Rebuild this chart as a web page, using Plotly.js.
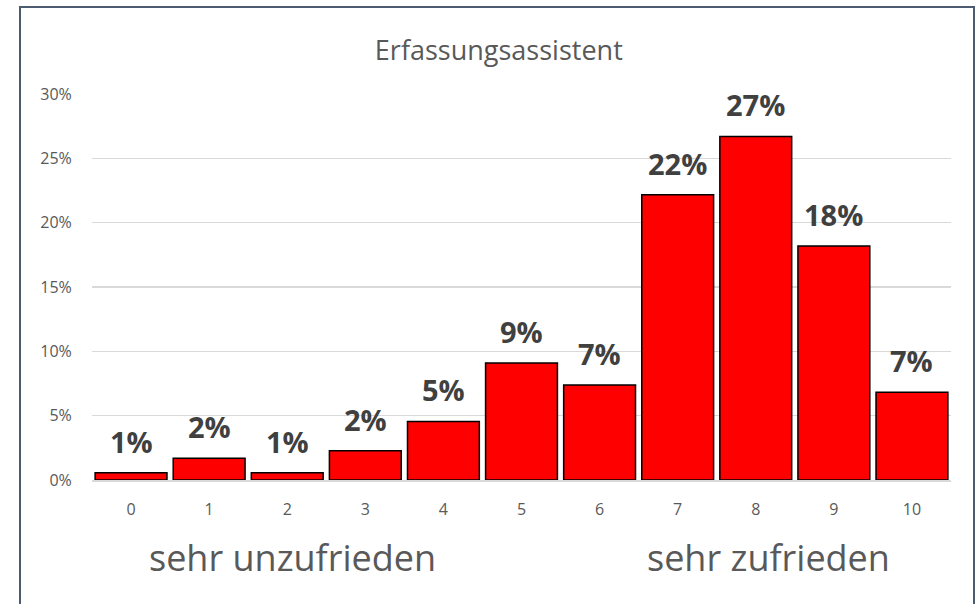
<!DOCTYPE html>
<html>
<head>
<meta charset="utf-8">
<script src="https://cdn.plot.ly/plotly-3.0.1.min.js"></script>
<style>
  html, body { margin: 0; padding: 0; background: #ffffff; }
  #wrap { position: relative; width: 980px; height: 604px; overflow: hidden; }
  #chart { position: absolute; left: 0; top: 0; width: 980px; height: 604px; }
  #frame { position: absolute; left: 19px; top: 6px; width: 956px; height: 640px;
           border: 2px solid #4d5b70; pointer-events: none; box-sizing: border-box; }
</style>
</head>
<body>
<div id="wrap">
  <div id="chart"></div>
  <div id="frame"></div>
</div>
<script>
// Data (share of respondents per rating, 0 = sehr unzufrieden, 10 = sehr zufrieden)
const categories = ['0', '1', '2', '3', '4', '5', '6', '7', '8', '9', '10'];
const shares = [0.0057, 0.0170, 0.0057, 0.0227, 0.0455, 0.0909, 0.0739, 0.2216, 0.2670, 0.1818, 0.0682];
const chartTitle = 'Erfassungsassistent';
const lowLabel = 'sehr unzufrieden';
const highLabel = 'sehr zufrieden';

const FONT = 'Open Sans, Liberation Sans, sans-serif';

const trace = {
  type: 'bar',
  x: categories,
  y: shares,
  marker: { color: '#ff0000', line: { color: '#000000', width: 1.5 } },
  hoverinfo: 'skip'
};

const labelAnnotations = categories.map((c, i) => ({
  x: c, y: shares[i], xref: 'x', yref: 'y',
  text: '<b>' + Math.round(shares[i] * 100) + '%</b>',
  showarrow: false, yanchor: 'bottom', yshift: 10,
  font: { family: FONT, size: 29, color: '#404040' }
}));

const layout = {
  width: 980, height: 604,
  margin: { l: 92, r: 29, t: 94, b: 124 },
  paper_bgcolor: '#ffffff', plot_bgcolor: '#ffffff',
  showlegend: false,
  bargap: 0.08,
  title: {
    text: chartTitle, xref: 'container', x: 0.509, xanchor: 'center',
    yref: 'container', y: 0.917, yanchor: 'middle',
    font: { family: FONT, size: 27, color: '#595959' }
  },
  xaxis: {
    type: 'category',
    showgrid: false, zeroline: false,
    showline: true, linecolor: '#d9d9d9', linewidth: 2,
    ticks: 'outside', ticklen: 14, tickcolor: 'rgba(0,0,0,0)',
    tickfont: { family: FONT, size: 16, color: '#595959' }
  },
  yaxis: {
    range: [0, 0.30], dtick: 0.05, tickformat: '.0%',
    showgrid: true, gridcolor: '#d9d9d9', gridwidth: 1.3,
    zeroline: false, showline: false,
    ticks: 'outside', ticklen: 16, tickcolor: 'rgba(0,0,0,0)',
    tickfont: { family: FONT, size: 16, color: '#595959' }
  },
  annotations: labelAnnotations.concat([
    { text: lowLabel, xref: 'paper', yref: 'paper', x: 0.233, y: -0.2,
      xanchor: 'center', yanchor: 'middle', showarrow: false,
      font: { family: FONT, size: 36, color: '#595959' } },
    { text: highLabel, xref: 'paper', yref: 'paper', x: 0.788, y: -0.2,
      xanchor: 'center', yanchor: 'middle', showarrow: false,
      font: { family: FONT, size: 36, color: '#595959' } }
  ])
};

Plotly.newPlot('chart', [trace], layout, { displayModeBar: false, staticPlot: true });
</script>
</body>
</html>
